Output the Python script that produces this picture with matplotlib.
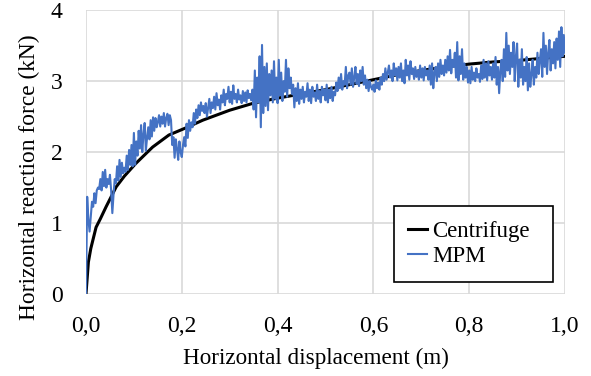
import numpy as np
import matplotlib.pyplot as plt
from matplotlib.ticker import FuncFormatter

plt.rcParams['font.family'] = ['Liberation Serif', 'DejaVu Serif']

# Centrifuge curve (smooth)
cen_x = [0, 0.005, 0.01, 0.021, 0.03, 0.042, 0.063, 0.08, 0.104, 0.139, 0.173, 0.208,
         0.244, 0.3, 0.35, 0.4, 0.45, 0.5, 0.55, 0.6, 0.65, 0.7, 0.75, 0.8, 0.85, 0.9, 0.95, 1.0]
cen_y = [0, 0.45, 0.64, 0.94, 1.06, 1.23, 1.51, 1.66, 1.84, 2.07, 2.24, 2.34,
         2.45, 2.59, 2.69, 2.76, 2.82, 2.88, 2.95, 3.02, 3.09, 3.15, 3.20, 3.24, 3.27, 3.29, 3.32, 3.35]

# MPM signal, sampled every 0.0025 m (one row = 0.05 m)
mpm_y = [
    0.00, 1.37, 1.05, 0.88, 1.10, 1.30, 1.23, 1.42, 1.28, 1.46, 1.50, 1.48, 1.62, 1.46, 1.72, 1.52, 1.75, 1.50, 1.62, 1.55,
    1.68, 1.46, 1.14, 1.40, 1.62, 1.56, 1.80, 1.60, 1.89, 1.65, 1.85, 1.70, 1.78, 1.72, 1.95, 1.75, 2.03, 1.82, 2.10, 1.80,
    2.27, 1.82, 2.15, 1.95, 2.30, 2.05, 2.38, 2.00, 2.25, 2.41, 2.02, 2.20, 2.35, 2.18, 2.45, 2.22, 2.49, 2.30, 2.48, 2.35,
    2.42, 2.52, 2.36, 2.50, 2.40, 2.55, 2.36, 2.48, 2.54, 2.38, 2.52, 2.45, 2.10, 2.21, 1.92, 2.18, 2.05, 1.89, 2.15, 2.00,
    1.93, 2.10, 2.21, 2.08, 2.40, 2.20, 2.45, 2.30, 2.42, 2.35, 2.55, 2.40, 2.60, 2.48, 2.66, 2.52, 2.70, 2.58, 2.65, 2.55,
    2.69, 2.50, 2.62, 2.75, 2.55, 2.70, 2.62, 2.78, 2.60, 2.83, 2.66, 2.74, 2.60, 2.80, 2.70, 2.88, 2.66, 2.82, 2.75, 2.92,
    2.70, 2.85, 2.68, 2.94, 2.75, 2.82, 2.70, 2.88, 2.74, 2.80, 2.69, 2.86, 2.72, 2.84, 2.70, 2.87, 2.76, 2.82, 2.73, 2.88,
    2.60, 3.15, 2.49, 3.05, 2.70, 3.35, 2.35, 3.51, 2.55, 3.20, 2.65, 3.25, 2.59, 3.10, 2.80, 3.15, 2.70, 3.28, 2.75, 3.05,
    2.69, 3.30, 2.80, 3.12, 2.72, 3.00, 2.85, 3.30, 2.78, 3.18, 2.90, 3.05, 2.82, 2.95, 2.63, 2.90, 2.72, 2.97, 2.68, 2.88,
    2.75, 2.92, 2.70, 2.85, 2.78, 2.97, 2.72, 2.88, 2.69, 2.92, 2.78, 2.84, 2.72, 2.95, 2.75, 2.86, 2.70, 2.92, 2.80, 2.88,
    2.73, 2.95, 2.70, 2.88, 2.76, 2.92, 2.72, 2.85, 2.80, 2.98, 2.86, 3.05, 2.90, 3.10, 2.88, 3.00, 2.95, 3.20, 2.90, 3.08,
    3.12, 2.95, 3.18, 2.92, 3.05, 3.20, 2.96, 3.10, 2.93, 3.15, 3.00, 3.20, 2.95, 3.08, 2.90, 3.02, 2.86, 3.00, 2.92, 2.88,
    2.95, 2.85, 3.01, 2.90, 2.98, 2.88, 3.05, 2.95, 3.10, 3.00, 3.18, 3.02, 3.12, 3.22, 3.05, 3.15, 3.00, 3.25, 3.08, 3.18,
    3.01, 3.20, 3.05, 3.25, 3.00, 3.15, 2.97, 3.30, 3.08, 3.22, 3.02, 3.28, 3.10, 3.18, 3.03, 3.20, 3.06, 3.15, 3.02, 3.22,
    3.05, 3.18, 3.01, 3.20, 3.08, 3.15, 3.02, 3.22, 2.95, 3.25, 2.90, 3.12, 3.20, 3.00, 3.25, 3.06, 3.30, 3.10, 3.22, 3.08,
    3.30, 3.12, 3.35, 3.15, 3.44, 3.11, 3.30, 3.20, 3.40, 3.05, 3.55, 3.01, 3.35, 3.10, 3.45, 3.02, 3.25, 3.05, 3.20, 2.98,
    3.15, 2.97, 3.20, 3.02, 3.12, 3.00, 3.18, 3.05, 3.10, 2.99, 3.22, 3.03, 3.30, 3.05, 3.25, 3.01, 3.28, 3.08, 3.20, 3.02,
    3.25, 3.05, 3.34, 2.95, 3.20, 2.83, 3.15, 3.30, 3.00, 3.45, 3.06, 3.68, 3.15, 3.50, 3.10, 3.40, 3.20, 3.55, 3.00, 3.35,
    3.53, 2.92, 3.30, 3.05, 3.45, 2.95, 3.20, 3.00, 3.34, 2.87, 3.25, 2.92, 3.10, 3.30, 2.95, 3.20, 3.05, 3.40, 3.10, 3.30,
    3.45, 3.06, 3.68, 3.20, 3.50, 3.10, 3.40, 3.58, 3.15, 3.45, 3.25, 3.55, 3.18, 3.60, 3.30, 3.70, 3.20, 3.76, 3.35, 3.65,
    3.40,
]
mpm_x = np.linspace(0, 1, len(mpm_y))

fig = plt.figure(figsize=(5.91, 3.76), dpi=100)
ax = fig.add_axes([0.1455, 0.218, 0.8105, 0.755])

ax.plot(cen_x, cen_y, color='black', lw=2.2, label='Centrifuge', zorder=3)
ax.plot(mpm_x, mpm_y, color='#4472c4', lw=1.5, label='MPM', zorder=4)

ax.set_xlim(0, 1)
ax.set_ylim(0, 4)
ax.set_xticks(np.arange(0, 1.01, 0.2))
ax.set_yticks([0, 1, 2, 3, 4])
ax.xaxis.set_major_formatter(FuncFormatter(lambda v, p: f'{v:.1f}'.replace('.', ',')))
ax.grid(True, color='#d9d9d9', lw=1.2)
ax.set_axisbelow(True)
for s in ax.spines.values():
    s.set_visible(False)
ax.tick_params(length=0, labelsize=17)
ax.tick_params(axis='x', pad=16)
ax.tick_params(axis='y', pad=17)

ax.set_xlabel('Horizontal displacement (m)', fontsize=16.7)
ax.set_ylabel('Horizontal reaction force (kN)', fontsize=16.8)
ax.xaxis.set_label_coords(0.481, -0.19)
ax.yaxis.set_label_coords(-0.095, 0.412)

leg = ax.legend(loc='lower left', bbox_to_anchor=(0.642, 0.042, 0.333, 0.271), mode='expand',
                fontsize=16.5, frameon=True, fancybox=False, edgecolor='black', framealpha=1,
                handlelength=0.8, handletextpad=0.25, borderpad=0.65, labelspacing=0.2,
                borderaxespad=0)
leg.get_frame().set_linewidth(1.2)

fig.savefig('out.png', dpi=100)
